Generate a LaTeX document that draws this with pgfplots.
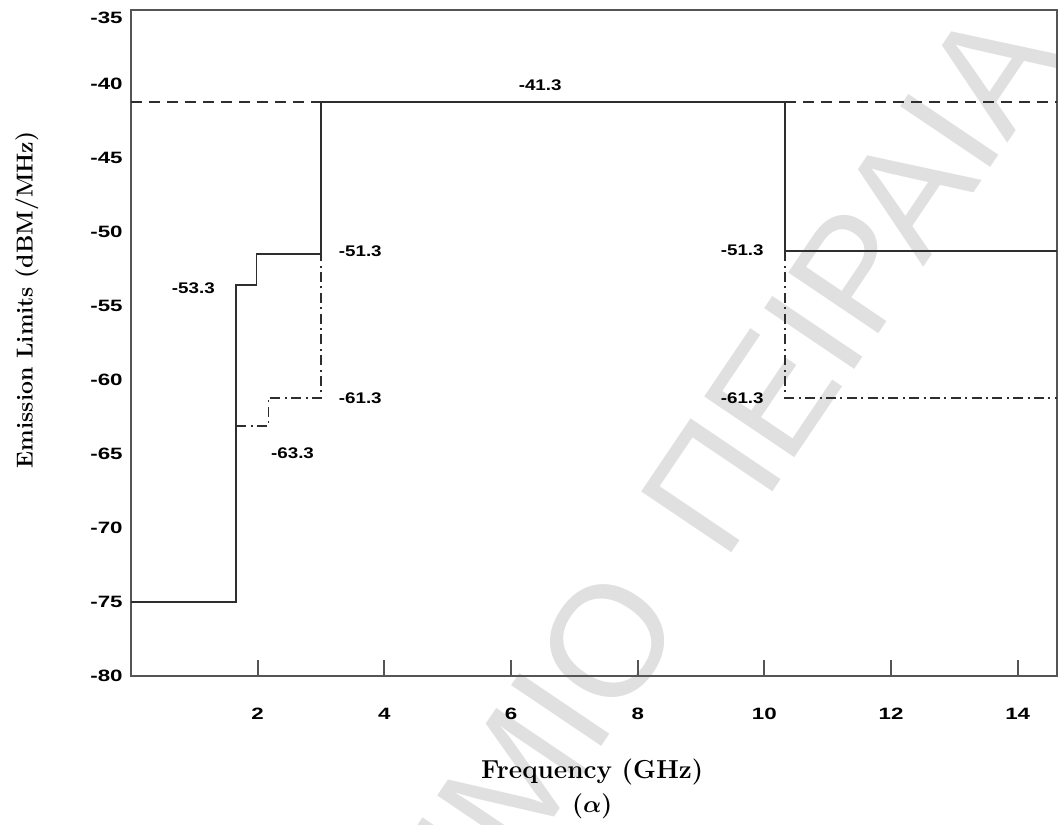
\documentclass[border=0pt]{standalone}
\usepackage{fontspec}
\usepackage{bm}
\usepackage{pgfplots}
\pgfplotsset{compat=1.18}
\newfontfamily\tickfont{Liberation Sans}[FakeStretch=1.36]
\newfontfamily\annfont{Liberation Sans}[FakeStretch=1.22]
\newfontfamily\wmfont{Liberation Sans}
\definecolor{linec}{HTML}{2E2E2E}
\definecolor{boxc}{HTML}{555555}
\definecolor{wmc}{HTML}{E0E0E0}
\newcommand{\tlfont}{\tickfont\bfseries\fontsize{8.2}{10}\selectfont}
\newcommand{\lblfont}{\annfont\bfseries\fontsize{7.7}{9}\selectfont}
\newcommand{\wmfontsz}{\wmfont\fontsize{79}{90}\selectfont}
\newcommand{\alphalbl}{\textbf{(}$\bm{\alpha}$\textbf{)}}
\begin{document}
\begin{tikzpicture}
\node[font=\wmfontsz, text=wmc, rotate=56, anchor=base east, inner sep=0pt] at (278.1pt,28.1pt) {ΠΑΝΕΠΙΣΤΗΜΙΟ};
\node[font=\wmfontsz, text=wmc, rotate=56, anchor=base west, inner sep=0pt] at (296.4pt,56.2pt) {ΠΕΙΡΑΙΑ};
\begin{axis}[
  at={(0,0)}, anchor=south west,
  scale only axis, width=463pt, height=333pt,
  xmin=0, xmax=14.62, ymin=-80, ymax=-35,
  xtick={2,4,...,14}, ytick={-80,-75,...,-40},
  xtick pos=bottom, ytick pos=left,
  tick align=inside, major tick length=7.8pt,
  ytick style={draw=none},
  xtick style={boxc, line width=0.9pt},
  axis line style={boxc, line width=1pt},
  clip=false,
  /pgf/number format/assume math mode=true,
  ticklabel style={font=\tlfont},
  xticklabel style={anchor=base, yshift=-21.5pt},
  yticklabel style={anchor=east, inner sep=0pt, xshift=-4pt},
]
\addplot[linec, line width=0.8pt] coordinates {
 (0,-75) (1.66,-75) (1.66,-53.6) (1.98,-53.6) (1.98,-51.5) (3.0,-51.5)
 (3.0,-41.2) (10.33,-41.2) (10.33,-51.3) (14.62,-51.3)};
\addplot[linec, line width=0.8pt, dash pattern=on 5.5pt off 3.5pt] coordinates {(0,-41.2) (3.0,-41.2)};
\addplot[linec, line width=0.8pt, dash pattern=on 5.5pt off 3.5pt] coordinates {(10.33,-41.2) (14.62,-41.2)};
\addplot[linec, line width=0.8pt, dash pattern=on 5pt off 2.2pt on 1pt off 2.2pt] coordinates {
 (1.66,-63.1) (2.17,-63.1) (2.17,-61.2) (3.0,-61.2) (3.0,-51.5)};
\addplot[linec, line width=0.8pt, dash pattern=on 5pt off 2.2pt on 1pt off 2.2pt] coordinates {
 (10.33,-51.3) (10.33,-61.2) (14.62,-61.2)};
\node[font=\lblfont, inner sep=0pt] at (axis cs:6.46,-40.1) {-41.3};
\node[font=\lblfont, inner sep=0pt] at (axis cs:0.985,-53.79) {-53.3};
\node[font=\lblfont, inner sep=0pt] at (axis cs:3.62,-51.29) {-51.3};
\node[font=\lblfont, inner sep=0pt] at (axis cs:3.62,-61.21) {-61.3};
\node[font=\lblfont, inner sep=0pt] at (axis cs:2.55,-64.92) {-63.3};
\node[font=\lblfont, inner sep=0pt] at (axis cs:9.65,-51.23) {-51.3};
\node[font=\lblfont, inner sep=0pt] at (axis cs:9.65,-61.21) {-61.3};
\node[font=\tlfont, inner sep=0pt, anchor=east, xshift=-4pt, yshift=-4pt] at (rel axis cs:0,1) {-35};
\end{axis}
\node[font=\bfseries\fontsize{13}{15}\selectfont, inner sep=0pt] at (230.6pt,-48pt) {Frequency (GHz)};
\node[font=\bfseries\fontsize{12.5}{15}\selectfont, inner sep=0pt] at (230.6pt,-65pt) {\alphalbl};
\node[font=\bfseries\fontsize{11.5}{14}\selectfont, inner sep=0pt, rotate=90] at (-52pt,188.1pt) {Emission Limits (dBM/MHz)};
\pgfresetboundingbox
\path (-65.5pt,-74pt) rectangle (463.5pt,338pt);
\end{tikzpicture}
\end{document}
